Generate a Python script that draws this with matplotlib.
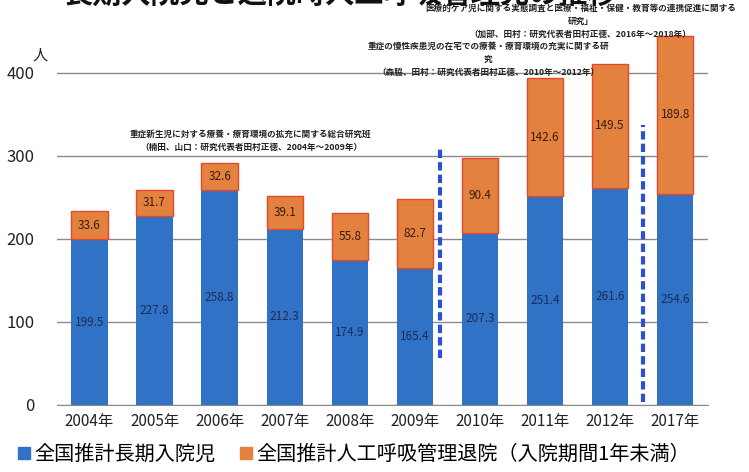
import matplotlib
matplotlib.use("Agg")
import matplotlib.pyplot as plt
from matplotlib.lines import Line2D

plt.rcParams['font.family'] = ['Noto Sans CJK JP', 'DejaVu Sans']

years = ['2004年', '2005年', '2006年', '2007年', '2008年', '2009年',
         '2010年', '2011年', '2012年', '2017年']
long_stay = [199.5, 227.8, 258.8, 212.3, 174.9, 165.4, 207.3, 251.4, 261.6, 254.6]
vent_discharge = [33.6, 31.7, 32.6, 39.1, 55.8, 82.7, 90.4, 142.6, 149.5, 189.8]
y_ticks = [0, 100, 200, 300, 400]

blue = '#2f72c6'
orange = '#e3823e'

fig = plt.figure(figsize=(7.49, 4.72), dpi=100)
ax = fig.add_axes([0.076, 0.142, 0.869, 0.809])

x = list(range(len(years)))
ax.bar(x, long_stay, width=0.56, color=blue, zorder=2)
ax.bar(x, vent_discharge, width=0.56, bottom=long_stay, color=orange,
       edgecolor='#e8472a', linewidth=1, zorder=2)

for i in x:
    ax.text(i, long_stay[i] / 2, f'{long_stay[i]:.1f}', ha='center', va='center',
            fontsize=8.5, color='#1c2d55', zorder=3)
    ax.text(i, long_stay[i] + vent_discharge[i] / 2, f'{vent_discharge[i]:.1f}',
            ha='center', va='center', fontsize=8.5, color='#3a1c10', zorder=3)

# study period separators
ax.plot([5.38, 5.38], [57, 310], color='#2b50d0', lw=3, dashes=(2, 1), zorder=3)
ax.plot([8.5, 8.5], [4, 337], color='#2b50d0', lw=3, dashes=(2, 1), zorder=3)

ax.set_xlim(-0.5, 9.5)
ax.set_ylim(0, 460)
ax.set_yticks(y_ticks)
ax.set_xticks(x)
ax.set_xticklabels(years, fontsize=11, color='#222222')
ax.tick_params(axis='y', labelsize=12, length=0, pad=16, colors='#222222')
ax.tick_params(axis='x', length=0, pad=6)
ax.grid(axis='y', color='#8a8a8a', lw=1, zorder=0)
for s in ['top', 'right', 'left']:
    ax.spines[s].set_visible(False)
ax.spines['bottom'].set_color('#8a8a8a')

fig.text(0.053, 0.883, '人', fontsize=11, ha='center', va='center', color='#222222')

# title, cut off at the top in the original
fig.text(0.455, 1.012, '長期入院児と退院時人工呼吸管理児の推移', fontsize=21,
         fontweight='bold', ha='center', va='center', color='#111111')

note_kw = dict(fontsize=6.2, fontweight='bold', ha='center', va='center',
               color='#222222', linespacing=1.55)
fig.text(0.775, 0.955,
         '医療的ケア児に関する実態調査と医療・福祉・保健・教育等の連携促進に関する\n'
         '研究」\n（加部、田村：研究代表者田村正徳、2016年～2018年）', **note_kw)
fig.text(0.652, 0.874,
         '重症の慢性疾患児の在宅での療養・療育環境の充実に関する研\n'
         '究\n（森脇、田村：研究代表者田村正徳、2010年～2012年）', **note_kw)
fig.text(0.335, 0.702,
         '重症新生児に対する療養・療育環境の拡充に関する総合研究班\n'
         '（楠田、山口：研究代表者田村正徳、2004年～2009年）', **note_kw)

handles = [Line2D([], [], marker='s', ls='none', color=blue, markersize=9),
           Line2D([], [], marker='s', ls='none', color=orange, markersize=9)]
fig.legend(handles, ['全国推計長期入院児', '全国推計人工呼吸管理退院（入院期間1年未満）'],
           loc='center left', bbox_to_anchor=(-0.005, 0.037), ncol=2, frameon=False,
           fontsize=14.5, handletextpad=0.0, columnspacing=1.0, handlelength=1.0)

fig.savefig('out.png', dpi=100)
